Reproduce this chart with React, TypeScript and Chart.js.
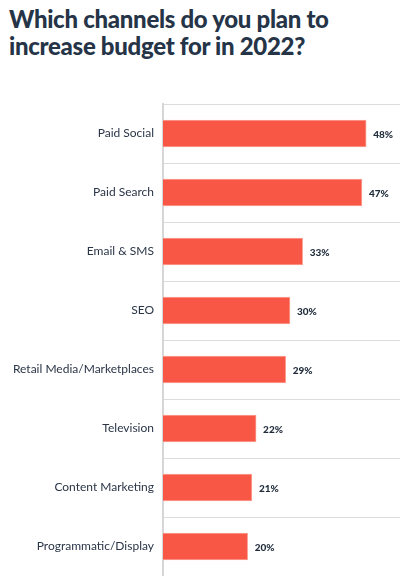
import React, { useEffect, useRef } from "react";
import { Chart, registerables } from "chart.js";

Chart.register(...registerables);

const titleLines = ["Which channels do you plan to", "increase budget for in 2022?"];
const categories = [
  "Paid Social",
  "Paid Search",
  "Email & SMS",
  "SEO",
  "Retail Media/Marketplaces",
  "Television",
  "Content Marketing",
  "Programmatic/Display",
];
const values = [48, 47, 33, 30, 29, 22, 21, 20];

const valueLabels = {
  id: "valueLabels",
  afterDatasetsDraw(chart: any) {
    const ctx = chart.ctx;
    const meta = chart.getDatasetMeta(0);
    ctx.save();
    ctx.font = "900 10px Lato";
    ctx.fillStyle = "#1f2b3a";
    ctx.textAlign = "left";
    ctx.textBaseline = "middle";
    meta.data.forEach((bar: any, i: number) => {
      ctx.fillText(values[i] + "%", bar.x + 7, bar.y + 1);
    });
    ctx.restore();
  },
};

export default function App() {
  const ref = useRef<HTMLCanvasElement | null>(null);
  useEffect(() => {
    document.body.style.margin = "0";
    const chart = new Chart(ref.current!, {
      type: "bar",
      data: {
        labels: categories,
        datasets: [
          {
            data: values,
            backgroundColor: "#F85745",
            borderColor: "#FBA397",
            borderWidth: 1,
            borderSkipped: "left",
            barThickness: 27,
          },
        ],
      },
      options: {
        indexAxis: "y",
        responsive: false,
        animation: false,
        layout: { padding: { top: 104, left: 0, right: 0, bottom: 0 } },
        plugins: { legend: { display: false }, tooltip: { enabled: false } },
        scales: {
          x: { display: false, min: 0, max: 56 },
          y: {
            afterFit(scale: any) {
              scale.width = 163;
              scale.paddingTop = 0;
              scale.paddingBottom = 0;
            },
            grid: { color: "#dcdcdc", lineWidth: 1, tickLength: 0 },
            border: { color: "#d6d6d6", width: 2 },
            ticks: { color: "#2a3547", font: { family: "Lato", size: 12 }, padding: 9 },
          },
        },
      },
      plugins: [valueLabels],
    });
    return () => chart.destroy();
  }, []);
  return (
    <div style={{ position: "relative", width: 400, height: 576, background: "#fff" }}>
      <div
        style={{
          position: "absolute",
          left: 9,
          top: 5,
          fontFamily: "Lato",
          fontWeight: 900,
          fontSize: 24,
          letterSpacing: "-0.3px",
          lineHeight: "27px",
          color: "#253447",
          whiteSpace: "nowrap",
        }}
      >
        {titleLines.map((t) => (
          <div key={t}>{t}</div>
        ))}
      </div>
      <canvas ref={ref} width={400} height={576} style={{ position: "absolute", left: 0, top: 0 }} />
    </div>
  );
}
